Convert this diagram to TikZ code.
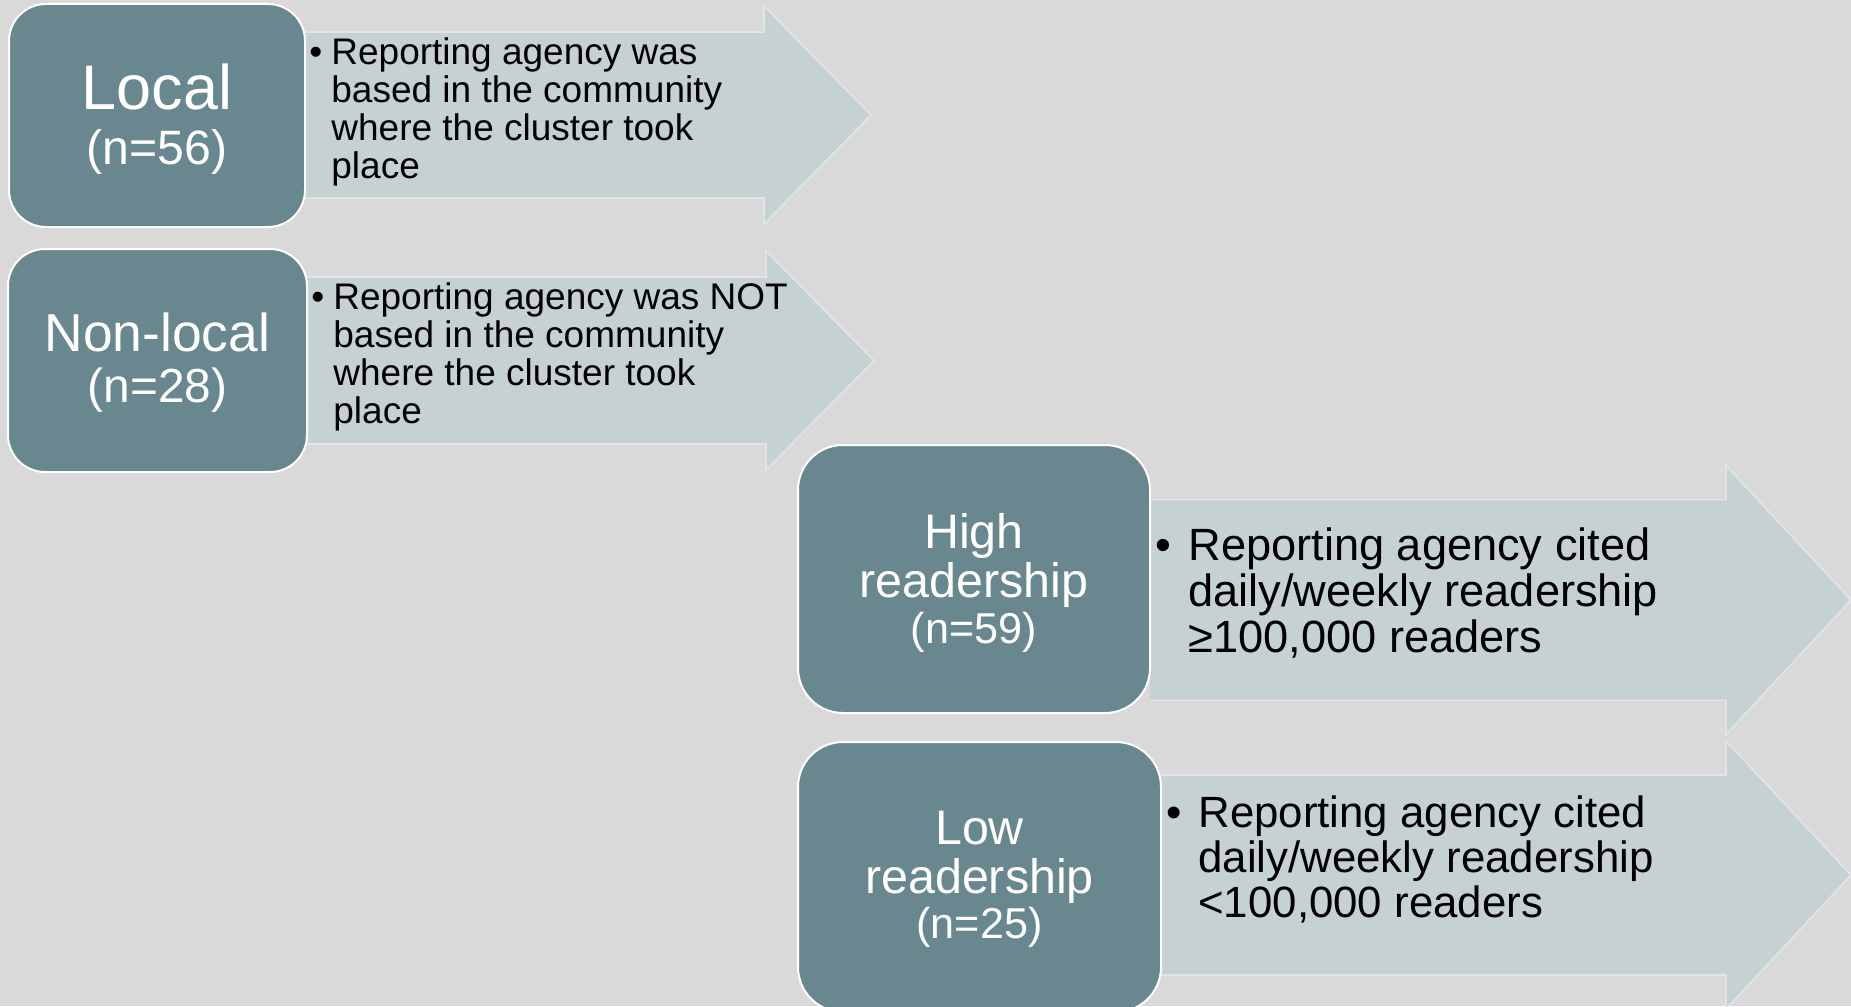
\documentclass[tikz,border=0pt]{standalone}
\usepackage{fontspec}
\setmainfont{Liberation Sans}
\definecolor{slide}{RGB}{217,217,217}
\definecolor{boxfill}{RGB}{105,135,143}
\definecolor{arrowfill}{RGB}{197,209,211}
\definecolor{arrowline}{RGB}{224,230,231}
\tikzset{
  catbox/.style={draw=white, line width=1pt, fill=boxfill, rounded corners=18.5pt,
    inner sep=0pt},
  catlabel/.style={text=white, align=center, inner sep=0pt},
  note/.style={anchor=west, inner sep=0pt, align=left, text=black},
}

\begin{document}
\begin{tikzpicture}[x=0.5pt,y=-0.5pt]
  \clip (0,0) rectangle (1851,1006);
  \fill[slide] (0,0) rectangle (1851,1006);
  % arrows: start / head base / tip / middle / half body / half head
  \foreach \xs/\xb/\xt/\yc/\hb/\hh in {305/764/871/115/83/109,
      307/766/874/360.5/83.5/109.5, 1150/1726/1851/600/100.5/134.5,
      1161/1726/1851/875/100/134} {
    \fill[arrowfill] (\xs,\yc-\hb) -- (\xb,\yc-\hb) -- (\xb,\yc-\hh) -- (\xt,\yc)
      -- (\xb,\yc+\hh) -- (\xb,\yc+\hb) -- (\xs,\yc+\hb) -- cycle;
    \draw[arrowline, line width=0.8pt] (\xs,\yc-\hb) -- (\xb,\yc-\hb) -- (\xb,\yc-\hh)
      -- (\xt,\yc) -- (\xb,\yc+\hh) -- (\xb,\yc+\hb) -- (\xs,\yc+\hb);
  }
  % category boxes
  \node[catbox, minimum width=148pt, minimum height=111.5pt] (local) at (157,115.5) {};
  \node[catbox, minimum width=149.5pt, minimum height=111.5pt] (nonlocal) at (157.5,360.5) {};
  \node[catbox, rounded corners=22.5pt, minimum width=176pt, minimum height=134pt] (high) at (974,579) {};
  \node[catbox, rounded corners=22.5pt, minimum width=181.5pt, minimum height=135pt] (low) at (979.5,877) {};
  \node[catlabel, font=\fontsize{31.5}{27.5}\selectfont] (locallabel) at (157,119.5)
    {Local\\\fontsize{24.1}{27.5}\selectfont (n=56)};
  \node[catlabel, font=\fontsize{26.7}{25.5}\selectfont] (nonlocallabel) at (157.5,363)
    {Non-local\\\fontsize{23.9}{25.5}\selectfont (n=28)};
  \node[catlabel, font=\fontsize{24.2}{24.5}\selectfont] (highlabel) at (974,583)
    {High\\readership\\[-1.75pt]\fontsize{21.6}{24.5}\selectfont (n=59)};
  \node[catlabel, font=\fontsize{24.2}{24.5}\selectfont] (lowlabel) at (979.5,879.5)
    {Low\\readership\\[-1.75pt]\fontsize{21.6}{24.5}\selectfont (n=25)};
  % bullet text on the arrows
  \node[note, font=\fontsize{18.5}{19}\selectfont] (localnote) at (331,112)
    {\leavevmode\llap{\textbullet\hspace{4.5pt}}Reporting agency was\\based in the community\\where the cluster took\\place};
  \node[note, font=\fontsize{18.5}{19}\selectfont] (nonlocalnote) at (333,357)
    {\leavevmode\llap{\textbullet\hspace{4.5pt}}Reporting agency was NOT\\based in the community\\where the cluster took\\place};
  \node[note, font=\fontsize{22.6}{23}\selectfont] (highnote) at (1188,593.5)
    {\leavevmode\llap{\textbullet\hspace{8.5pt}}Reporting agency cited\\daily/weekly readership\\≥100,000 readers};
  \node[note, font=\fontsize{21.9}{22.3}\selectfont] (lownote) at (1198,859.5)
    {\leavevmode\llap{\textbullet\hspace{8.5pt}}Reporting agency cited\\daily/weekly readership\\<100,000 readers};
\end{tikzpicture}
\end{document}
